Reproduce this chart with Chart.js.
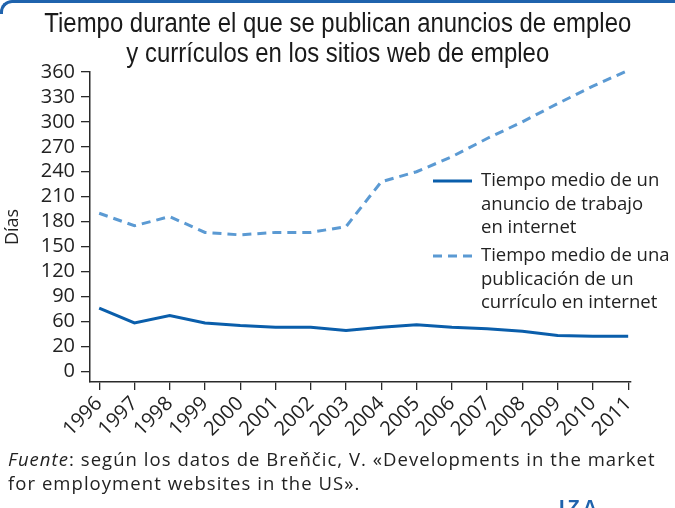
<!DOCTYPE html>
<html>
<head>
<meta charset="utf-8">
<script src="https://cdn.jsdelivr.net/npm/chart.js@4.4.1/dist/chart.umd.min.js"></script>
<style>
  html, body { margin: 0; padding: 0; background: #fff; }
  body { width: 675px; height: 508px; position: relative; overflow: hidden; }
  #topRule { position: absolute; left: 0; top: 0; width: 690px; height: 14px;
    border-top: 3px solid #1f63ad; border-left: 3px solid #1f63ad; border-top-left-radius: 12px; box-sizing: border-box; }
  #title { position: absolute; left: 0; top: 8px; width: 675px; text-align: center;
    font-family: "Liberation Sans", sans-serif; font-size: 27px; line-height: 30px; color: #1a1a1a;
    transform: scaleX(0.886); transform-origin: 340px 0; }
  #note { position: absolute; left: 8px; top: 447px; width: 680px;
    font-family: "Open Sans", sans-serif; font-size: 18.5px; line-height: 24px; color: #222; white-space: nowrap; letter-spacing: 1.05px; }
  #iza { position: absolute; left: 559px; top: 497px; font-family: "Liberation Sans", sans-serif; font-weight: bold;
    font-size: 20px; color: #1f63ad; letter-spacing: 3px; line-height: 20px; }
  canvas { position: absolute; left: 0; top: 0; }
</style>
</head>
<body>
<canvas id="c" width="675" height="508"></canvas>
<div id="topRule"></div>
<div id="title">Tiempo durante el que se publican anuncios de empleo<br>y currículos en los sitios web de empleo</div>
<div id="note"><i>Fuente</i>: según los datos de Breňčic, V. «Developments in the market<br>for employment websites in the US».</div>
<div id="iza">IZA</div>
<script>
// ---- data ----
const years = [1996, 1997, 1998, 1999, 2000, 2001, 2002, 2003, 2004, 2005, 2006, 2007, 2008, 2009, 2010, 2011];
const jobAdDays = [76, 58, 67, 58, 55, 53, 53, 49, 53, 56, 53, 51, 48, 43, 42, 42];
const resumeDays = [190, 175, 186, 167, 164, 167, 167, 174, 228, 240, 258, 280, 300, 322, 343, 362];
const yTickValues = [0, 30, 60, 90, 120, 150, 180, 210, 240, 270, 300, 330, 360];
const yTickLabels = ['0', '20', '60', '90', '120', '150', '180', '210', '240', '270', '300', '330', '360'];
const jobAdLabel = ['Tiempo medio de un', 'anuncio de trabajo', 'en internet'];
const resumeLabel = ['Tiempo medio de una', 'publicación de un', 'currículo en internet'];
const yAxisTitle = 'Días';

const tickFont = { family: '"Open Sans", sans-serif', size: 20 };
const axisColor = '#2a2a2a';

const legendPlugin = {
  id: 'insideLegend',
  afterDraw(chart) {
    const ctx = chart.ctx;
    const x0 = 433, x1 = 472, tx = 481;
    const tops = [181, 256];
    const lh = 23.5;
    ctx.save();
    chart.data.datasets.forEach((ds, i) => {
      const y = tops[i];
      ctx.strokeStyle = ds.borderColor;
      ctx.lineWidth = ds.borderWidth;
      ctx.setLineDash(ds.borderDash || []);
      ctx.beginPath(); ctx.moveTo(x0, y); ctx.lineTo(x1, y); ctx.stroke();
      ctx.setLineDash([]);
      ctx.fillStyle = '#222';
      ctx.font = '18.5px "Open Sans", sans-serif';
      ctx.textBaseline = 'middle';
      ctx.textAlign = 'left';
      ds.legendLines.forEach((t, k) => ctx.fillText(t, tx, y + k * lh));
    });
    ctx.restore();
  }
};

new Chart(document.getElementById('c'), {
  type: 'line',
  data: {
    datasets: [
      {
        label: jobAdLabel.join(' '),
        legendLines: jobAdLabel,
        data: years.map((yr, i) => ({ x: yr, y: jobAdDays[i] })),
        borderColor: '#0a5eab',
        borderWidth: 3,
        pointRadius: 0,
        tension: 0,
        clip: false
      },
      {
        label: resumeLabel.join(' '),
        legendLines: resumeLabel,
        data: years.map((yr, i) => ({ x: yr, y: resumeDays[i] })),
        borderColor: '#5b9ad3',
        borderWidth: 3,
        borderDash: [9, 6],
        pointRadius: 0,
        tension: 0,
        clip: false
      }
    ]
  },
  options: {
    responsive: false,
    animation: false,
    devicePixelRatio: 1,
    layout: { padding: { left: 0, right: 44, top: 72, bottom: 66 } },
    plugins: { legend: { display: false }, tooltip: { enabled: false }, title: { display: false } },
    scales: {
      x: {
        type: 'linear',
        min: 1995.74,
        max: 2011.08,
        afterBuildTicks: s => { s.ticks = years.map(v => ({ value: v })); },
        afterFit: s => { s.height = 60; },
        ticks: { autoSkip: false, minRotation: 45, maxRotation: 45, padding: 2, color: '#222', font: tickFont,
                 callback: v => String(v) },
        grid: { drawOnChartArea: false, drawTicks: true, tickLength: 8, color: axisColor, lineWidth: 1.3 },
        border: { color: axisColor, width: 1.5 }
      },
      y: {
        type: 'linear',
        min: -13,
        max: 360,
        afterBuildTicks: s => { s.ticks = yTickValues.map(v => ({ value: v })); },
        afterFit: s => { s.width = 90; },
        ticks: { autoSkip: false, padding: 6, color: '#222', font: tickFont,
                 callback: v => { const k = yTickValues.indexOf(v); return k >= 0 ? yTickLabels[k] : ''; } },
        grid: { drawOnChartArea: false, drawTicks: true, tickLength: 9, color: axisColor, lineWidth: 1.3 },
        border: { color: axisColor, width: 1.5 },
        title: { display: true, text: yAxisTitle, color: '#222', font: { family: '"Open Sans", sans-serif', size: 18 }, padding: 2 }
      }
    }
  },
  plugins: [legendPlugin]
});
</script>
</body>
</html>
